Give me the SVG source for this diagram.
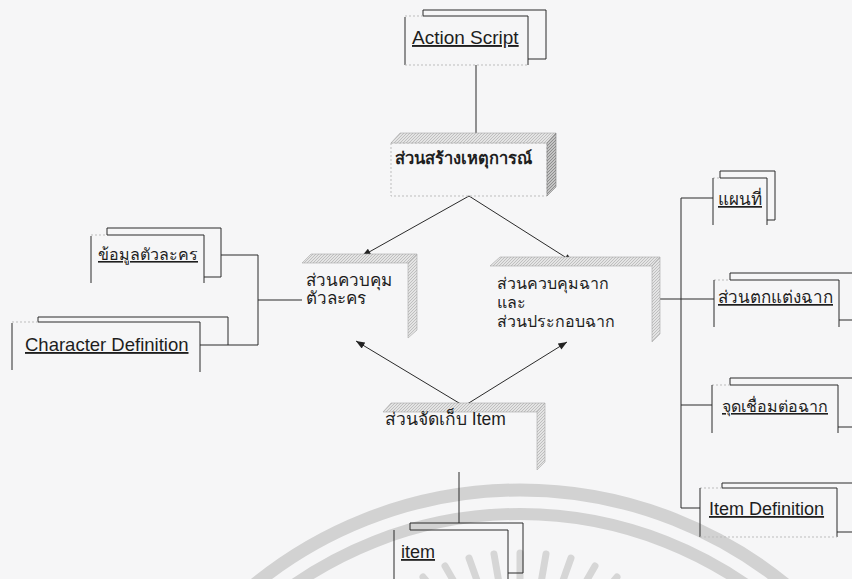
<svg xmlns="http://www.w3.org/2000/svg" width="852" height="579" viewBox="0 0 852 579">
  <defs>
    <pattern id="hatch" width="3" height="3" patternUnits="userSpaceOnUse">
      <rect width="3" height="3" fill="#e4e4e4"/>
      <path d="M0 3 L3 0" stroke="#a6a6a6" stroke-width="0.6"/>
    </pattern>
    <pattern id="hatchDark" width="3" height="3" patternUnits="userSpaceOnUse">
      <rect width="3" height="3" fill="#c4c4c4"/>
      <path d="M0 3 L3 0" stroke="#777" stroke-width="0.7"/>
    </pattern>
    <marker id="arrow" viewBox="0 0 10 8" refX="10" refY="4" markerWidth="10" markerHeight="7" orient="auto" markerUnits="userSpaceOnUse">
      <path d="M0 0 L10 4 L0 8 Z" fill="#222"/>
    </marker>
  </defs>
  <style>
    .ln { stroke: #2a2a2a; stroke-width: 1; fill: none; }
    .faint { stroke: #bdbdbd; stroke-width: 1; stroke-dasharray: 2 2; fill: none; }
    .face { fill: url(#hatch); stroke: #a8a8a8; stroke-width: 0.6; }
    .faceDark { fill: url(#hatchDark); stroke: #808080; stroke-width: 0.6; }
    .lbl { font-family: "Liberation Sans", "Noto Sans", "DejaVu Sans", sans-serif; font-size: 18px; fill: #1e1e1e; }
    .doc { text-decoration: underline; }
    .wm { stroke: #d2d2d2; fill: none; }
  </style>

  <rect width="852" height="579" fill="#f6f6f7"/>

  <!-- faint seal printed behind the chart -->
  <g id="watermark">
    <circle class="wm" cx="520" cy="910" r="420" stroke-width="13"/>
    <circle class="wm" cx="520" cy="910" r="396" stroke-width="12"/>
    <g stroke="#d6d6d6" stroke-width="7" stroke-linecap="round">
      <line x1="520" y1="582" x2="520" y2="553"/>
      <line x1="541" y1="583" x2="546" y2="554"/>
      <line x1="499" y1="583" x2="494" y2="554"/>
      <line x1="561" y1="586" x2="571" y2="558"/>
      <line x1="479" y1="586" x2="469" y2="558"/>
      <line x1="580" y1="592" x2="595" y2="566"/>
      <line x1="460" y1="592" x2="445" y2="566"/>
      <line x1="598" y1="600" x2="617" y2="577"/>
      <line x1="442" y1="600" x2="423" y2="577"/>
    </g>
  </g>

  <!-- connectors -->
  <g id="connectors">
    <line class="ln" x1="476" y1="65" x2="476" y2="137"/>
    <line class="ln" x1="469" y1="196" x2="362" y2="256" marker-end="url(#arrow)"/>
    <line class="ln" x1="469" y1="196" x2="573" y2="262" marker-end="url(#arrow)"/>
    <line class="ln" x1="464" y1="406" x2="356" y2="341" marker-end="url(#arrow)"/>
    <line class="ln" x1="464" y1="406" x2="567" y2="342" marker-end="url(#arrow)"/>
    <line class="ln" x1="459" y1="472" x2="459" y2="523"/>
    <!-- character side -->
    <polyline class="ln" points="221,255 258,255 258,345 228,345"/>
    <line class="ln" x1="258" y1="300" x2="302" y2="300"/>
    <!-- scene side -->
    <line class="ln" x1="681" y1="198" x2="681" y2="508"/>
    <line class="ln" x1="681" y1="198" x2="713" y2="198"/>
    <line class="ln" x1="660" y1="299" x2="714" y2="299"/>
    <line class="ln" x1="681" y1="405" x2="712" y2="405"/>
    <line class="ln" x1="681" y1="508" x2="700" y2="508"/>
  </g>

  <!-- Action Script document -->
  <g id="action-script">
    <polyline class="ln" points="423,16 423,10 546,10 546,59 528,59"/>
    <line class="faint" x1="405" y1="16" x2="423" y2="16"/>
    <line class="ln" x1="423" y1="16" x2="528" y2="16"/>
    <line class="ln" x1="405" y1="17" x2="405" y2="65"/>
    <line class="ln" x1="528" y1="16" x2="528" y2="65"/>
    <line class="faint" x1="405" y1="65" x2="528" y2="65"/>
    <text class="lbl doc" x="412" y="44" style="font-size:19px">Action Script</text>
  </g>

  <!-- event builder block -->
  <g id="event-builder">
    <rect class="faint" x="391" y="143" width="156" height="53"/>
    <polygon class="face" points="391,143 400,133 556,133 547,143"/>
    <polygon class="faceDark" points="547,143 556,133 556,187 547,196"/>
    <text class="lbl" x="395" y="164" style="font-weight:bold;font-size:16.5px">ส่วนสร้างเหตุการณ์</text>
  </g>

  <!-- character control block -->
  <g id="character-control">
    <polygon class="face" points="302,263 311,254 417,254 408,263"/>
    <polygon class="face" points="408,263 417,254 417,330 408,338"/>
    <text class="lbl" x="306" y="286" style="font-size:17px">ส่วนควบคุม</text>
    <text class="lbl" x="306" y="304" style="font-size:17px">ตัวละคร</text>
  </g>

  <!-- scene control block -->
  <g id="scene-control">
    <polygon class="face" points="490,266 500,257 660,257 652,266"/>
    <polygon class="face" points="652,266 660,257 660,334 652,342"/>
    <text class="lbl" x="497" y="289" style="font-size:16px">ส่วนควบคุมฉาก</text>
    <text class="lbl" x="497" y="308" style="font-size:16px">และ</text>
    <text class="lbl" x="497" y="327" style="font-size:16px">ส่วนประกอบฉาก</text>
  </g>

  <!-- item storage block -->
  <g id="item-storage">
    <polygon class="face" points="383,412 391,403 545,403 537,412"/>
    <polygon class="face" points="537,412 545,403 545,462 537,470"/>
    <text class="lbl" x="385" y="425" style="font-size:17.5px">ส่วนจัดเก็บ Item</text>
  </g>

  <!-- character data document -->
  <g id="character-data">
    <polyline class="ln" points="107,235 107,228 221,228 221,277 204,277"/>
    <line class="ln" x1="107" y1="235" x2="204" y2="235"/>
    <line class="faint" x1="91" y1="235" x2="107" y2="235"/>
    <line class="ln" x1="91" y1="236" x2="91" y2="283"/>
    <line class="ln" x1="204" y1="235" x2="204" y2="283"/>
    <text class="lbl doc" x="98" y="260" style="font-size:16px">ข้อมูลตัวละคร</text>
  </g>

  <!-- Character Definition document -->
  <g id="character-definition">
    <polyline class="ln" points="38,322 38,317 228,317 228,345 200,345"/>
    <line class="ln" x1="38" y1="322" x2="200" y2="322"/>
    <line class="faint" x1="12" y1="322" x2="38" y2="322"/>
    <line class="ln" x1="12" y1="323" x2="12" y2="370"/>
    <line class="ln" x1="200" y1="322" x2="200" y2="372"/>
    <text class="lbl doc" x="25" y="351" style="font-size:18.5px">Character Definition</text>
  </g>

  <!-- map document -->
  <g id="map">
    <polyline class="ln" points="720,178 720,171 775,171 775,220 767,220"/>
    <line class="ln" x1="720" y1="178" x2="767" y2="178"/>
    <line class="faint" x1="713" y1="178" x2="720" y2="178"/>
    <line class="ln" x1="713" y1="178" x2="713" y2="225"/>
    <line class="ln" x1="767" y1="178" x2="767" y2="225"/>
    <text class="lbl doc" x="718" y="205" style="font-size:17px">แผนที่</text>
  </g>

  <!-- scene decoration document -->
  <g id="scene-decoration">
    <polyline class="ln" points="730,280 730,273 860,273"/>
    <line class="ln" x1="839" y1="320" x2="860" y2="320"/>
    <line class="ln" x1="730" y1="280" x2="839" y2="280"/>
    <line class="faint" x1="714" y1="280" x2="730" y2="280"/>
    <line class="ln" x1="714" y1="280" x2="714" y2="327"/>
    <line class="ln" x1="839" y1="280" x2="839" y2="327"/>
    <text class="lbl doc" x="718" y="303" style="font-size:17px">ส่วนตกแต่งฉาก</text>
  </g>

  <!-- scene link document -->
  <g id="scene-link">
    <polyline class="ln" points="730,385 730,378 860,378"/>
    <line class="ln" x1="838" y1="427" x2="860" y2="427"/>
    <line class="ln" x1="730" y1="385" x2="838" y2="385"/>
    <line class="faint" x1="712" y1="385" x2="730" y2="385"/>
    <line class="ln" x1="712" y1="385" x2="712" y2="433"/>
    <line class="ln" x1="838" y1="385" x2="838" y2="433"/>
    <text class="lbl doc" x="722" y="412" style="font-size:16px">จุดเชื่อมต่อฉาก</text>
  </g>

  <!-- Item Definition document -->
  <g id="item-definition">
    <polyline class="ln" points="722,488 722,483 860,483"/>
    <line class="ln" x1="837" y1="532" x2="860" y2="532"/>
    <line class="ln" x1="722" y1="488" x2="837" y2="488"/>
    <line class="faint" x1="700" y1="488" x2="722" y2="488"/>
    <line class="ln" x1="700" y1="488" x2="700" y2="537"/>
    <line class="ln" x1="837" y1="488" x2="837" y2="537"/>
    <line class="faint" x1="700" y1="537" x2="837" y2="537"/>
    <text class="lbl doc" x="709" y="515">Item Definition</text>
  </g>

  <!-- item document -->
  <g id="item">
    <polyline class="ln" points="410,530 410,523 523,523 523,573 508,573"/>
    <line class="ln" x1="410" y1="530" x2="508" y2="530"/>
    <line class="ln" x1="394" y1="530" x2="394" y2="579"/>
    <line class="ln" x1="508" y1="530" x2="508" y2="579"/>
    <text class="lbl doc" x="401" y="558">item</text>
  </g>
</svg>
